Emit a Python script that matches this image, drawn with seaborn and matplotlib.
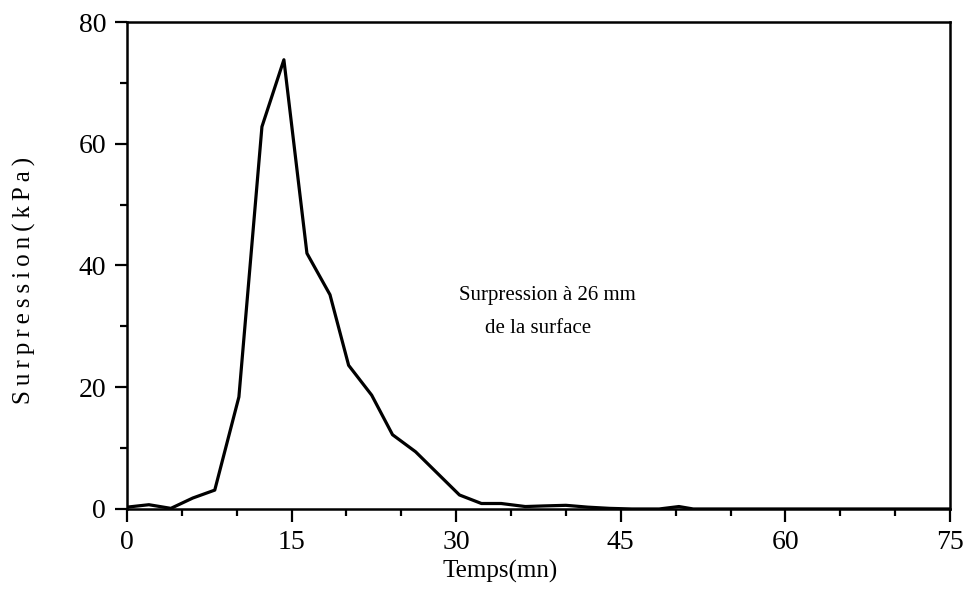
import matplotlib
matplotlib.use("Agg")
import numpy as np
import pandas as pd
import seaborn as sns
from matplotlib import pyplot as plt
from matplotlib.ticker import MultipleLocator

# temps (mn) et surpression (kPa)
temps = [0, 2, 4, 6, 8, 10.2, 12.3, 14.3, 16.4, 18.5, 20.2, 22.3, 24.2, 26.3, 30.3,
         32.3, 34.1, 36.3, 38, 40, 42, 44, 46, 48.5, 50.3, 51.6, 56, 60, 64, 68, 72, 75]
surpression = [0.3, 0.7, 0.1, 1.8, 3.1, 18.4, 62.8, 73.8, 42.0, 35.2, 23.6, 18.7, 12.2, 9.4, 2.3,
               0.9, 0.9, 0.4, 0.5, 0.6, 0.3, 0.1, 0.0, 0.0, 0.4, 0.0, 0.0, 0.0, 0.0, 0.0, 0.0, 0.0]

x_ticks = [0, 15, 30, 45, 60, 75]
y_ticks = [0, 20, 40, 60, 80]

df = pd.DataFrame({"temps": temps, "surpression": surpression})

sns.set_theme(style="ticks")
plt.rcParams["font.family"] = ["Liberation Serif", "DejaVu Serif"]
plt.rcParams["text.color"] = "black"
plt.rcParams["axes.labelcolor"] = "black"

fig = plt.figure(figsize=(9.67, 6.13), dpi=100)
ax = fig.add_axes([0.1313, 0.1697, 0.8511, 0.7944])

sns.lineplot(data=df, x="temps", y="surpression", ax=ax, color="black", linewidth=2.3)

ax.set_xlim(0, 75)
ax.set_ylim(0, 80)
ax.set_xticks(x_ticks)
ax.set_yticks(y_ticks)
ax.xaxis.set_minor_locator(MultipleLocator(5))
ax.yaxis.set_minor_locator(MultipleLocator(10))
ax.tick_params(which="major", length=9, width=1.6, labelsize=20, color="black", labelcolor="black")
ax.tick_params(which="minor", length=5, width=1.6, color="black")
ax.tick_params(axis="x", pad=6)
ax.tick_params(axis="y", pad=6)

for side in ["left", "right", "top", "bottom"]:
    ax.spines[side].set_linewidth(1.8)
    ax.spines[side].set_color("black")

thin = "\u2009"
ax.set_xlabel("Temps(mn)", fontsize=18)
ax.set_ylabel(thin.join("Surpression(kPa)"), fontsize=18)
ax.xaxis.set_label_coords(0.453, -0.105)
ax.yaxis.set_label_coords(-0.11, 0.47)

ax.text(30.3, 35.1, "Surpression à 26 mm", fontsize=15, va="center", ha="left")
ax.text(32.6, 29.7, "de la surface", fontsize=15, va="center", ha="left")

fig.savefig("out.png", dpi=100)
